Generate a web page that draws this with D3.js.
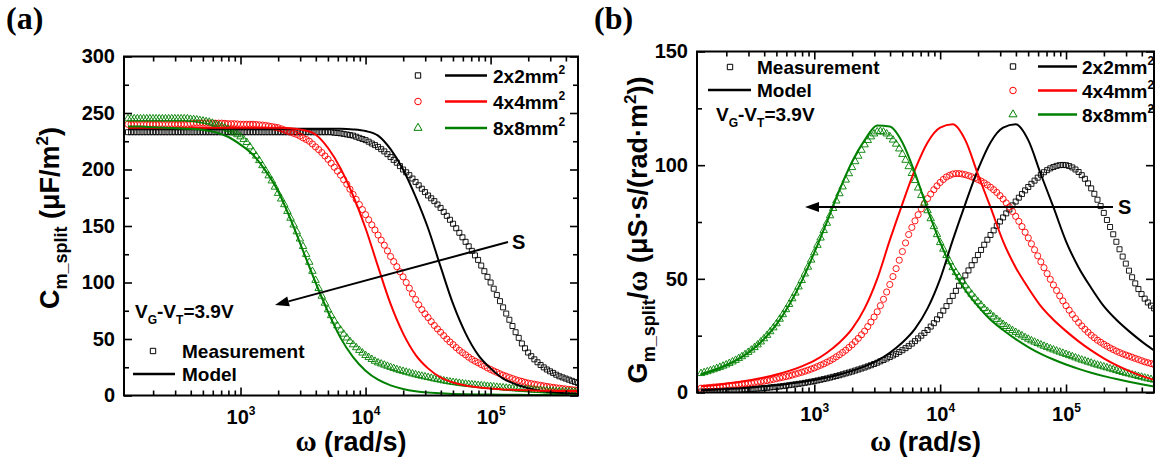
<!DOCTYPE html>
<html><head><meta charset="utf-8">
<script src="https://cdn.jsdelivr.net/npm/d3@7"></script>
<style>
body{margin:0;background:#fff}
svg text{font-family:"Liberation Sans",Arial,sans-serif;font-weight:bold}
</style></head>
<body><svg id="chart" width="1155" height="461"></svg>
<script>
// ---------- DATA ----------
const omegaDomain = [117, 5.0e5];
const xTickExps = [3, 4, 5];
const capYTicks = [0, 50, 100, 150, 200, 250, 300];
const condYTicks = [0, 50, 100, 150];
const sizeLabels = ["2x2mm", "4x4mm", "8x8mm"];
const typeLabels = ["Measurement", "Model"];

// log10(omega) of measured points
const measLogOmega = [
 2.100,2.125,2.150,2.175,2.200,2.225,2.250,2.275,2.300,2.325,2.350,2.375,2.400,2.425,2.450,2.475,2.500,2.525,2.550,2.575,
 2.600,2.625,2.650,2.675,2.700,2.725,2.750,2.775,2.800,2.825,2.850,2.875,2.900,2.925,2.950,2.975,3.000,3.025,3.050,3.075,
 3.100,3.125,3.150,3.175,3.200,3.225,3.250,3.275,3.300,3.325,3.350,3.375,3.400,3.425,3.450,3.475,3.500,3.525,3.550,3.575,
 3.600,3.625,3.650,3.675,3.700,3.725,3.750,3.775,3.800,3.825,3.850,3.875,3.900,3.925,3.950,3.975,4.000,4.025,4.050,4.075,
 4.100,4.125,4.150,4.175,4.200,4.225,4.250,4.275,4.300,4.325,4.350,4.375,4.400,4.425,4.450,4.475,4.500,4.525,4.550,4.575,
 4.600,4.625,4.650,4.675,4.700,4.725,4.750,4.775,4.800,4.825,4.850,4.875,4.900,4.925,4.950,4.975,5.000,5.025,5.050,5.075,
 5.100,5.125,5.150,5.175,5.200,5.225,5.250,5.275,5.300,5.325,5.350,5.375,5.400,5.425,5.450,5.475,5.500,5.525,5.550,5.575,
 5.600,5.625,5.650,5.675,5.700];
// log10(omega) of model points
const modelLogOmega = [
 2.1,2.2,2.3,2.4,2.5,2.6,2.7,2.8,2.9,3.0,
 3.1,3.2,3.3,3.4,3.5,3.6,3.7,3.8,3.9,4.0,
 4.1,4.2,4.3,4.4,4.5,4.6,4.7,4.8,4.9,5.0,
 5.1,5.2,5.3,5.4,5.5,5.6,5.7];

// (a) C_m_split measured
const capMeas2 = [
 233,233,233,233,233,233,233,233,233,233,233,233,233,233,233,233,233,233,233,233,
 233,233,233,233,233,233,233,233,233,233,233,233,233,233,233,233,233,233,233,233,
 233,233,233,233,233,233,233,233,233,233,233,233,233,233,233,233,233,233,233,233,
 233,233,233,233,233,233,232.5,232.3,232,231.5,231,230.5,230,229,228,227,226,224.6,223,221.6,
 220,218,216,213.6,211,208.5,206,203,200,197.5,195,192,189,186,183,180,177,174.5,172,169,
 166,162.5,159,155.5,152,148,144,140,136,132,128,124,120,115,110,105,100,94.5,89,83.5,
 78,72.5,67,61.5,56,51,46,41.8,38,34.8,32,29.4,27,24.9,23,21.4,20,18.4,17,16,
 15,14,13,12,11];
const capMeas4 = [
 240,240,240,240,240,240,240,240,240,240,240,240,240,240,240,240,240,240,240,240,
 240.5,240.8,241,241,241,241,241,241,241,241,241,240.8,240.5,240.5,240.5,240.3,240,240,240,240,
 240,239.8,239.5,239.3,239,238.5,238,237.5,237,236,235,234,233,232,231,229.6,228,226.6,225,222.6,
 220,217.6,215,212,209,205.6,202,198.6,195,191,187,182.6,178,173.5,169,164.5,160,155.5,151,146.5,
 142,137.5,133,128,123,118.5,114,109.5,105,100,95,90,85,80.3,76,72.3,69,65.4,62,58.9,
 56,53,50,47.4,45,42.4,40,37.9,36,33.9,32,30.4,29,27.4,26,24.4,23,21.7,20.5,19.2,
 18,17,16,15,14,13.2,12.5,11.7,11,10.5,10,9.5,9,8.5,8,7.6,7.2,6.8,6.5,6.1,
 5.8,5.4,5.1,4.8,4.5];
const capMeas8 = [
 245,245,245,245,245,245,245,245,245,245,245,245,245,245,245,245,245,245,245,245,
 244.5,244.3,244,243.5,243,242.5,242,241.1,240,239,238,236.8,235.5,234,232.5,230.9,229,226.6,224,220.2,
 216,212,208,203.5,199,194.5,190,184.5,179,174,169,163,157,151,145,138.6,132,125,118,110,
 102,94.8,88,81.8,76,70.8,66,61.8,58,54.4,51,47.9,45,42.4,40,37.7,35.5,33.7,32,30.4,
 29,28,27,26,25,24,23,22.2,21.5,20.7,20,19.2,18.5,17.8,17.2,16.6,16,15.4,14.8,14.2,
 13.7,13.1,12.6,12.1,11.7,11.3,10.9,10.5,10.2,9.9,9.6,9.3,9.0,8.7,8.5,8.2,8.0,7.7,7.4,7.1,
 6.9,6.6,6.4,6.2,6.0,5.8,5.6,5.4,5.2,5.0,4.8,4.6,4.5,4.3,4.2,4.0,3.9,3.7,3.6,3.5,
 3.4,3.3,3.2,3.1,3.0];
// (a) C_m_split model
const capModel2 = [
 236,236,236,236,236,236,236,236,236,236,
 236,236,236,236,236,236,236,236,235.5,234,
 230,218,200,176,148,114,81,55,36,24,
 15,10,6.5,4.2,2.8,1.9,1.3];
const capModel4 = [
 237,237,237,237,237,237,237,237,237,237,
 237,237,237,236.5,235,231,219,201,177,148,
 114,81,55,36,24,16,11.5,8.8,7.2,6.1,
 5.4,4.9,4.6,4.3,4.1,4.0,3.9];
const capModel8 = [
 238,238,237.5,237,236.5,236,235,233,229,222,
 213,199,181,156,128,100,74,51,34,22,
 14,9,5.8,3.8,2.6,1.9,1.4,1.1,0.9,0.8,
 0.7,0.6,0.5,0.5,0.4,0.4,0.3];

// (b) G_m_split/omega measured
const condMeas2 = [
 0.4,0.45,0.5,0.55,0.6,0.65,0.7,0.75,0.8,0.87,0.95,1.02,1.1,1.2,1.3,1.4,1.5,1.6,1.7,1.8,
 1.9,2.05,2.2,2.35,2.5,2.65,2.8,3.0,3.2,3.4,3.6,3.8,4.0,4.25,4.5,4.75,5.0,5.3,5.6,5.9,
 6.2,6.55,6.9,7.25,7.6,8.0,8.4,8.8,9.2,9.65,10.1,10.55,11.0,11.5,12.0,12.55,13.1,13.7,14.3,14.95,
 15.6,16.3,17.0,17.8,18.6,19.5,20.4,21.5,22.6,23.8,25,26.2,27.5,29,30.5,32.2,34,36,38,40.2,
 42.5,44.7,47,49.2,51.5,53.7,56,58.2,60.5,62.7,65,67.2,69.3,71.3,73.3,75.2,77,78.8,80.5,82.3,
 84,85.7,87.3,88.9,90.4,91.8,93.2,94.5,95.8,96.9,97.8,98.6,99.2,99.7,100,100.1,100,99.6,99,98.1,
 97,95.6,94,92,89.8,87.4,84.8,82,79,75.9,72.8,69.6,66.3,63,59.8,56.7,53.6,50.7,48,45.5,
 43.3,41.3,39.6,38.2,37];
const condMeas4 = [
 1.9,2.0,2.1,2.25,2.4,2.5,2.6,2.75,2.9,3.05,3.2,3.35,3.5,3.67,3.85,4.02,4.2,4.4,4.6,4.8,
 5.0,5.25,5.5,5.8,6.1,6.4,6.7,7.0,7.3,7.7,8.1,8.5,8.9,9.35,9.8,10.3,10.8,11.4,12,12.6,
 13.3,14.0,14.8,15.7,16.6,17.6,18.6,19.8,21,22.4,23.8,25.4,27,29,31,33.2,35.5,38.2,41,44.2,
 47.5,51,54.5,58.2,62,65.8,69.5,72.6,75.5,78.2,80.8,83.1,85.3,87.3,89.2,90.9,92.4,93.7,94.8,95.5,
 96.1,96.3,96.3,96.1,95.8,95.4,94.9,94.3,93.7,93,92.2,91.3,90.3,89.2,88,86.6,85.1,83.4,81.6,79.6,
 77.5,75.3,73,70.5,68,65.4,62.8,60.1,57.5,54.9,52.3,49.8,47.3,44.9,42.5,40.3,38.2,36.2,34.3,32.5,
 30.8,29.3,27.8,26.5,25.2,24.1,23,22.1,21.2,20.4,19.6,18.9,18.2,17.6,17,16.5,16,15.5,15,14.5,
 14,13.5,13.1,12.7,12.3];
const condMeas8 = [
 8.4,8.8,9.2,9.65,10.1,10.6,11.1,11.65,12.2,12.85,13.5,14.2,15,15.8,16.7,17.7,18.7,19.8,21,22.3,
 23.7,25.2,26.8,28.5,30.3,32.3,34.3,36.5,38.8,41.3,43.8,46.5,49.3,52.2,55.2,58.3,61.5,64.8,68,71.3,
 74.5,77.8,81,84.3,87.5,90.5,93.5,96.3,99,101.6,104,106.6,109,110.9,112.5,113.8,114.7,114.9,114.6,113.8,
 112.6,111.1,109.3,107.2,104.8,102.2,99.4,96.4,93.3,90,86.7,83.4,80,76.5,73,69.5,66,63.1,60.3,57.6,
 55,52.8,50.8,48.8,47,45.1,43.3,41.6,40,38.5,37,35.7,34.5,33.3,32.2,31.1,30,29.1,28.2,27.3,
 26.5,25.7,25,24.2,23.5,22.8,22.2,21.6,21,20.4,19.9,19.3,18.8,18.3,17.8,17.3,16.8,16.3,15.8,15.3,
 14.8,14.3,13.9,13.4,13,12.5,12.1,11.7,11.3,10.9,10.5,10.1,9.7,9.3,8.9,8.5,8.2,7.8,7.5,7.1,
 6.8,6.4,6.1,5.8,5.5];
// (b) G_m_split/omega model
const condModel2 = [
 1.0,1.2,1.5,1.8,2.2,2.7,3.2,3.9,4.6,5.5,
 6.6,7.9,9.5,11.5,14,17.5,22,28,37,50,
 67,83,98,110,116.5,118,111,96,81.5,66.5,
 55,46,38,32,27,22.5,18.5];
const condModel4 = [
 2.7,3.2,3.9,4.6,5.5,6.6,7.9,9.5,11.5,14,
 17.5,22,28,37,50,67,83,98,110,116.5,
 118,111,96,81.5,66.5,55,46,38,32,27,
 22.5,18.5,15,12,9.5,7.3,5.5];
const condModel8 = [
 8.0,9.8,12.0,14.8,18.5,23.5,30,38.5,49,61.5,
 75,89,101.5,111,117.5,117,110,96.5,80.5,66,
 54,45,38,32,27.5,23.5,20,17,14.5,12.3,
 10.4,8.7,7.2,5.9,4.7,3.6,2.6];

// ---------- STYLE ----------
const colors = ["#000000", "#ff0000", "#008000"];
const symbolTypes = [d3.symbolSquare, d3.symbolCircle, d3.symbolTriangle];
const symbolSizes = [25, 30, 24];
const serif = "'Liberation Serif','Times New Roman',serif";
const svg = d3.select("#chart");

function supText(sel, base, sup, supSize, rise) {
  sel.append("tspan").text(base);
  sel.append("tspan").attr("font-size", supSize).attr("dy", -rise).text(sup);
}

function panel(cfg) {
  const x = d3.scaleLog().domain(omegaDomain).range([cfg.left, cfg.right]);
  const y = d3.scaleLinear().domain([0, cfg.yMax]).range([cfg.bottom, cfg.top]);
  const g = svg.append("g");
  const clipId = "clip" + cfg.id;
  svg.append("clipPath").attr("id", clipId).append("rect")
    .attr("x", cfg.left).attr("y", cfg.top)
    .attr("width", cfg.right - cfg.left).attr("height", cfg.bottom - cfg.top);
  const plot = g.append("g").attr("clip-path", `url(#${clipId})`);

  cfg.meas.forEach((vals, i) => {
    plot.append("g").selectAll("path").data(vals).join("path")
      .attr("transform", (d, j) => `translate(${x(Math.pow(10, measLogOmega[j]))},${y(d)})`)
      .attr("d", d3.symbol(symbolTypes[i], symbolSizes[i]))
      .attr("fill", "none").attr("stroke", colors[i]).attr("stroke-width", 0.9);
  });
  const line = d3.line()
    .x((d, j) => x(Math.pow(10, modelLogOmega[j])))
    .y(d => y(d)).curve(d3.curveMonotoneX);
  cfg.model.forEach((vals, i) => {
    plot.append("path").datum(vals).attr("d", line)
      .attr("fill", "none").attr("stroke", colors[i]).attr("stroke-width", 2);
  });

  // axes
  const major = xTickExps.map(e => Math.pow(10, e));
  const minor = [];
  for (let e = 2; e <= 5; e++) for (let m = 2; m <= 9; m++) {
    const v = m * Math.pow(10, e);
    if (v > omegaDomain[0] && v < omegaDomain[1]) minor.push(v);
  }
  const yMinor = d3.pairs(cfg.yTicks).map(([a, b]) => (a + b) / 2);
  const style = s => {
    s.select(".domain").remove();
    s.selectAll("line").attr("stroke", "#000").attr("stroke-width", 1.6);
    s.attr("font-family", null).attr("font-size", 20);
    s.selectAll("text").attr("fill", "#000");
  };
  const bx = g.append("g").attr("transform", `translate(0,${cfg.bottom})`)
    .call(d3.axisBottom(x).tickValues(major).tickSize(-8).tickPadding(14).tickFormat(d => Math.round(Math.log10(d))))
    .call(style);
  bx.selectAll(".tick text").each(function(d) {
    const t = d3.select(this); const e = Math.round(Math.log10(d));
    t.text(""); supText(t, "10", String(e), 12, 9);
  });
  g.append("g").attr("transform", `translate(0,${cfg.bottom})`)
    .call(d3.axisBottom(x).tickValues(minor).tickSize(-5).tickFormat(() => "")).call(style);
  g.append("g").attr("transform", `translate(0,${cfg.top})`)
    .call(d3.axisTop(x).tickValues(major).tickSize(-8).tickFormat(() => "")).call(style);
  g.append("g").attr("transform", `translate(0,${cfg.top})`)
    .call(d3.axisTop(x).tickValues(minor).tickSize(-5).tickFormat(() => "")).call(style);
  g.append("g").attr("transform", `translate(${cfg.left},0)`)
    .call(d3.axisLeft(y).tickValues(cfg.yTicks).tickSize(-8).tickPadding(9).tickFormat(d3.format("d")))
    .call(style);
  g.append("g").attr("transform", `translate(${cfg.left},0)`)
    .call(d3.axisLeft(y).tickValues(yMinor).tickSize(-5).tickFormat(() => "")).call(style);
  g.append("g").attr("transform", `translate(${cfg.right},0)`)
    .call(d3.axisRight(y).tickValues(cfg.yTicks).tickSize(-8).tickFormat(() => "")).call(style);
  g.append("g").attr("transform", `translate(${cfg.right},0)`)
    .call(d3.axisRight(y).tickValues(yMinor).tickSize(-5).tickFormat(() => "")).call(style);

  g.append("rect").attr("x", cfg.left).attr("y", cfg.top)
    .attr("width", cfg.right - cfg.left).attr("height", cfg.bottom - cfg.top)
    .attr("fill", "none").attr("stroke", "#000").attr("stroke-width", 2);

  const xl = g.append("text").attr("x", (cfg.left + cfg.right) / 2).attr("y", 451)
    .attr("text-anchor", "middle").attr("font-size", 27);
  xl.append("tspan").style("font-family", serif).attr("font-size", 29).text("ω");
  xl.append("tspan").text(" (rad/s)");

  g.append("text").attr("x", cfg.letterX).attr("y", 29)
    .style("font-family", serif).attr("font-size", 32).text(cfg.letter);

  const lg = g.append("g");
  sizeLabels.forEach((lab, i) => {
    const yy = cfg.legY[i];
    lg.append("path").attr("transform", `translate(${cfg.legSymX},${yy})`)
      .attr("d", d3.symbol(symbolTypes[i], symbolSizes[i] + 4))
      .attr("fill", "none").attr("stroke", colors[i]).attr("stroke-width", 1);
    lg.append("line").attr("x1", cfg.legLine[0]).attr("x2", cfg.legLine[1])
      .attr("y1", yy).attr("y2", yy).attr("stroke", colors[i]).attr("stroke-width", 2.5);
    const t = lg.append("text").attr("x", cfg.legTextX).attr("y", yy + 7).attr("font-size", 19);
    supText(t, lab, "2", 12, 9);
  });

  const tg = g.append("g");
  tg.append("path").attr("transform", `translate(${cfg.typeSymX},${cfg.typeY[0]})`)
    .attr("d", d3.symbol(d3.symbolSquare, 29))
    .attr("fill", "none").attr("stroke", "#000").attr("stroke-width", 1);
  tg.append("line").attr("x1", cfg.typeLine[0]).attr("x2", cfg.typeLine[1])
    .attr("y1", cfg.typeY[1]).attr("y2", cfg.typeY[1]).attr("stroke", "#000").attr("stroke-width", 2.5);
  typeLabels.forEach((lab, i) => {
    tg.append("text").attr("x", cfg.typeTextX).attr("y", cfg.typeY[i] + 7).attr("font-size", 19).text(lab);
  });

  const vt = g.append("text").attr("x", cfg.vX).attr("y", cfg.vY).attr("font-size", 19);
  vt.append("tspan").text("V");
  vt.append("tspan").attr("font-size", 12).attr("dy", 6).text("G");
  vt.append("tspan").attr("dy", -6).text("-V");
  vt.append("tspan").attr("font-size", 12).attr("dy", 6).text("T");
  vt.append("tspan").attr("dy", -6).text("=3.9V");

  const [ax1, ay1, ax2, ay2] = cfg.arrow;
  const ang = Math.atan2(ay2 - ay1, ax2 - ax1);
  const hl = 14, hw = 5;
  const bxp = ax2 - hl * Math.cos(ang), byp = ay2 - hl * Math.sin(ang);
  g.append("line").attr("x1", ax1).attr("y1", ay1).attr("x2", bxp).attr("y2", byp)
    .attr("stroke", "#000").attr("stroke-width", 2);
  g.append("path").attr("d", `M${ax2},${ay2}L${bxp - hw * Math.sin(ang)},${byp + hw * Math.cos(ang)}L${bxp + hw * Math.sin(ang)},${byp - hw * Math.cos(ang)}Z`)
    .attr("fill", "#000");
  g.append("text").attr("x", cfg.sPos[0]).attr("y", cfg.sPos[1]).attr("font-size", 20).text("S");
  return g;
}

const ga = panel({
  id: "a", left: 124, right: 578, top: 56.5, bottom: 395.5, yMax: 300, yTicks: capYTicks,
  meas: [capMeas2, capMeas4, capMeas8], model: [capModel2, capModel4, capModel8],
  letter: "(a)", letterX: 6,
  legSymX: 418, legY: [75.5, 101.5, 128], legLine: [445, 487], legTextX: 493,
  typeSymX: 153, typeY: [351, 374], typeLine: [133, 175], typeTextX: 182,
  vX: 135, vY: 318,
  arrow: [508, 242, 275, 305], sPos: [512, 249]
});
const la = ga.append("text").attr("transform", "translate(59,218) rotate(-90)")
  .attr("text-anchor", "middle").attr("font-size", 27);
la.append("tspan").text("C");
la.append("tspan").attr("font-size", 18).attr("dy", 8).text("m_split");
la.append("tspan").attr("dy", -8).text(" (μF/m");
la.append("tspan").attr("font-size", 17).attr("dy", -11).text("2");
la.append("tspan").attr("dy", 11).text(")");

const gb = panel({
  id: "b", left: 697, right: 1154, top: 51.5, bottom: 392.5, yMax: 150, yTicks: condYTicks,
  meas: [condMeas2, condMeas4, condMeas8], model: [condModel2, condModel4, condModel8],
  letter: "(b)", letterX: 594,
  legSymX: 1013, legY: [66.5, 90.5, 114.5], legLine: [1038, 1077], legTextX: 1082,
  typeSymX: 730, typeY: [67, 90], typeLine: [708, 751], typeTextX: 757,
  vX: 716, vY: 121,
  arrow: [1113, 207, 805, 207], sPos: [1118, 214]
});
const lb = gb.append("text").attr("transform", "translate(647,230) rotate(-90)")
  .attr("text-anchor", "middle").attr("font-size", 27);
lb.append("tspan").text("G");
lb.append("tspan").attr("font-size", 18).attr("dy", 8).text("m_split");
lb.append("tspan").attr("dy", -8).text("/");
lb.append("tspan").style("font-family", serif).attr("font-size", 29).text("ω");
lb.append("tspan").text(" (μS·s/(rad·m");
lb.append("tspan").attr("font-size", 17).attr("dy", -11).text("2");
lb.append("tspan").attr("dy", 11).text("))");
</script>
</body></html>
